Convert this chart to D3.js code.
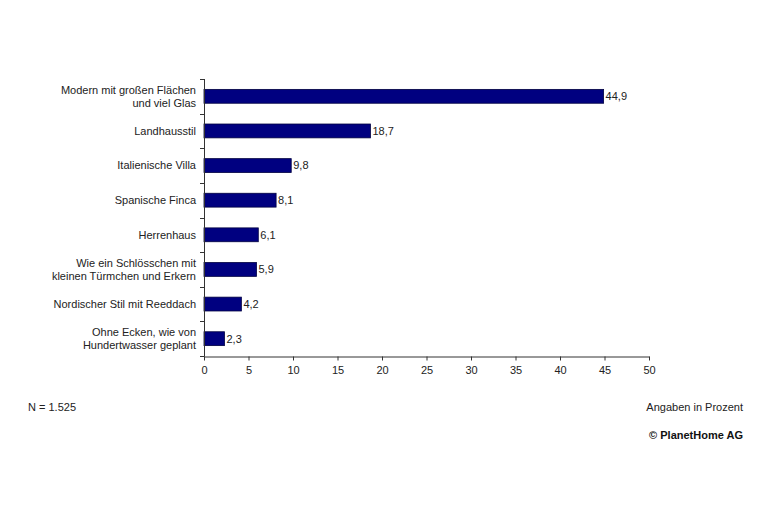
<!DOCTYPE html>
<html><head><meta charset="utf-8">
<script src="https://cdn.jsdelivr.net/npm/d3@7/dist/d3.min.js"></script>
<style>body{margin:0;background:#fff;} text{font-family:"Liberation Sans",Arial,sans-serif;}</style>
</head><body>
<svg id="c" width="762" height="508"></svg>
<script>
const categories = [
  ["Modern mit großen Flächen","und viel Glas"],
  ["Landhausstil"],
  ["Italienische Villa"],
  ["Spanische Finca"],
  ["Herrenhaus"],
  ["Wie ein Schlösschen mit","kleinen Türmchen und Erkern"],
  ["Nordischer Stil mit Reeddach"],
  ["Ohne Ecken, wie von","Hundertwasser geplant"]
];
const values = [44.9, 18.7, 9.8, 8.1, 6.1, 5.9, 4.2, 2.3];
const xTicks = [0,5,10,15,20,25,30,35,40,45,50];

const svg = d3.select("#c");
const x = d3.scaleLinear().domain([0,50]).range([204,649]);
const y = d3.scaleBand().domain(d3.range(categories.length)).range([79,356]).paddingInner(0.6).paddingOuter(0.3);

// bars
svg.selectAll("rect.bar").data(values).join("rect")
  .attr("x", x(0)).attr("y", (d,i)=>y(i))
  .attr("width", d=>x(d)-x(0)).attr("height", y.bandwidth())
  .attr("fill","#000080").attr("stroke","#000040").attr("stroke-width",0.8);

// value labels
svg.selectAll("text.val").data(values).join("text")
  .attr("x", d=>x(d)+2).attr("y",(d,i)=>y(i)+y.bandwidth()/2)
  .attr("dy","0.35em").attr("font-size",11).attr("fill","#222")
  .text(d=>d.toString().replace(".",","));

// y axis line + ticks at band boundaries
const g = svg.append("g").attr("stroke","#333").attr("stroke-width",1);
g.append("line").attr("x1",204.5).attr("x2",204.5).attr("y1",79).attr("y2",356.5);
const step = (356-79)/categories.length;
d3.range(categories.length+1).forEach(i=>{
  const yy = Math.round(79+i*step)+0.5;
  g.append("line").attr("x1",200).attr("x2",204.5).attr("y1",yy).attr("y2",yy);
});

// x axis
const xa = svg.append("g").attr("transform","translate(0,356.5)")
  .call(d3.axisBottom(x).tickValues(xTicks).tickSize(4).tickSizeOuter(0).tickPadding(6));
xa.select(".domain").attr("stroke","#333");
xa.selectAll(".tick line").attr("stroke","#333");
xa.selectAll("text").attr("font-size",11).attr("fill","#222").style("font-family","Liberation Sans, Arial, sans-serif");

// category labels
categories.forEach((lines,i)=>{
  const cy = y(i)+y.bandwidth()/2;
  const lh = 13;
  const t = svg.append("text").attr("text-anchor","end").attr("font-size",11).attr("fill","#222");
  lines.forEach((l,k)=>{
    t.append("tspan").attr("x",196)
     .attr("y", cy + (k-(lines.length-1)/2)*lh).attr("dy","0.35em").text(l);
  });
});

svg.append("text").attr("x",28).attr("y",411).attr("font-size",11).attr("fill","#222").text("N = 1.525");
svg.append("text").attr("x",743).attr("y",411).attr("text-anchor","end").attr("font-size",11).attr("fill","#222").text("Angaben in Prozent");
svg.append("text").attr("x",743).attr("y",439).attr("text-anchor","end").attr("font-size",11).attr("font-weight","bold").attr("fill","#111").text("© PlanetHome AG");
</script>
</body></html>
